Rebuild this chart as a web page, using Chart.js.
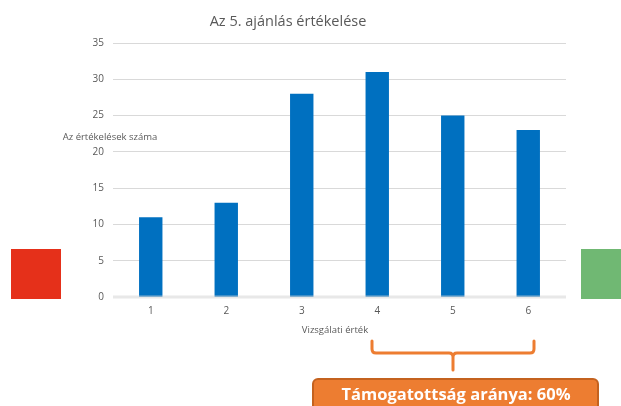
<!DOCTYPE html>
<html>
<head>
<meta charset="utf-8">
<script src="https://cdn.jsdelivr.net/npm/chart.js@4/dist/chart.umd.min.js"></script>
<style>
  html, body { margin: 0; padding: 0; background: #fff; }
  canvas { display: block; }
</style>
</head>
<body>
<canvas id="chart" width="621" height="406"></canvas>
<script>
const categories = ['1', '2', '3', '4', '5', '6'];
const ratings = [11, 13, 28, 31, 25, 23];
const yTicks = [0, 5, 10, 15, 20, 25, 30, 35];

const chartTitle = 'Az 5. ajánlás értékelése';
const yTitle = 'Az értékelések száma';
const xTitle = 'Vizsgálati érték';
const supportText = 'Támogatottság aránya: 60%';

const FONT = '"Open Sans", "Noto Sans", sans-serif';
const GREY = '#595959';
const ORANGE = '#ED7D31';

function text(ctx, str, x, y, size, color, weight, align) {
    ctx.save();
    ctx.font = (weight || 'normal') + ' ' + size + 'px ' + FONT;
    ctx.fillStyle = color;
    ctx.textAlign = align || 'center';
    ctx.textBaseline = 'alphabetic';
    ctx.fillText(str, x, y);
    ctx.restore();
}

// zero line sits on top of the bars, a bit see-through
const zeroLine = {
    id: 'zeroLine',
    afterDatasetsDraw(chart) {
        const ctx = chart.ctx;
        const y = chart.scales.y.getPixelForValue(0);
        ctx.save();
        ctx.strokeStyle = 'rgba(217,217,217,0.6)';
        ctx.lineWidth = 3;
        ctx.beginPath();
        ctx.moveTo(chart.chartArea.left, y);
        ctx.lineTo(chart.chartArea.right, y);
        ctx.stroke();
        ctx.restore();
    }
};

const decorations = {
    id: 'decorations',
    afterDraw(chart) {
        const ctx = chart.ctx;

        text(ctx, chartTitle, 288, 26, 14.5, GREY);
        text(ctx, yTitle, 110, 140, 9.5, GREY);
        text(ctx, xTitle, 335, 333, 9.5, GREY);

        // red / green markers
        ctx.fillStyle = '#E5301A';
        ctx.fillRect(11, 249, 50, 50);
        ctx.fillStyle = '#70B873';
        ctx.fillRect(581, 249, 40, 50);

        // brace over 4..6
        ctx.save();
        ctx.strokeStyle = ORANGE;
        ctx.lineWidth = 3;
        ctx.lineCap = 'round';
        ctx.lineJoin = 'round';
        ctx.beginPath();
        ctx.moveTo(372, 341);
        ctx.lineTo(372, 349);
        ctx.quadraticCurveTo(372, 353, 376, 353);
        ctx.lineTo(449, 353);
        ctx.quadraticCurveTo(453, 353, 453, 357);
        ctx.lineTo(453, 370);
        ctx.moveTo(453, 357);
        ctx.quadraticCurveTo(453, 353, 457, 353);
        ctx.lineTo(530, 353);
        ctx.quadraticCurveTo(534, 353, 534, 349);
        ctx.lineTo(534, 341);
        ctx.stroke();

        // support ratio box
        ctx.beginPath();
        ctx.roundRect(313, 379, 285, 36, 5);
        ctx.fillStyle = ORANGE;
        ctx.fill();
        ctx.lineWidth = 2;
        ctx.strokeStyle = '#C4621F';
        ctx.stroke();
        ctx.restore();

        text(ctx, supportText, 456, 400, 16.5, '#fff', 'bold');
    }
};

new Chart(document.getElementById('chart').getContext('2d'), {
    type: 'bar',
    data: {
        labels: categories,
        datasets: [{
            label: chartTitle,
            data: ratings,
            backgroundColor: '#0070C0',
            borderWidth: 0,
            categoryPercentage: 1,
            barPercentage: 0.31
        }]
    },
    options: {
        responsive: false,
        animation: false,
        devicePixelRatio: 1,
        layout: { padding: { left: 0, top: 43, right: 55, bottom: 0 } },
        plugins: {
            legend: { display: false },
            title: { display: false },
            tooltip: { enabled: false }
        },
        scales: {
            x: {
                grid: { display: false, drawTicks: false },
                border: { display: false },
                ticks: { color: GREY, font: { family: FONT, size: 10 }, padding: 8 },
                afterFit(scale) { scale.height = 109; }
            },
            y: {
                min: 0,
                max: 35,
                afterBuildTicks(scale) { scale.ticks = yTicks.map(v => ({ value: v })); },
                grid: {
                    color: '#D9D9D9',
                    lineWidth: c => (c.tick && c.tick.value === 0 ? 0 : 1),
                    drawTicks: false
                },
                border: { display: false },
                ticks: { color: GREY, font: { family: FONT, size: 10 }, padding: 9 },
                afterFit(scale) { scale.width = 113; }
            }
        }
    },
    plugins: [zeroLine, decorations]
});
</script>
</body>
</html>
